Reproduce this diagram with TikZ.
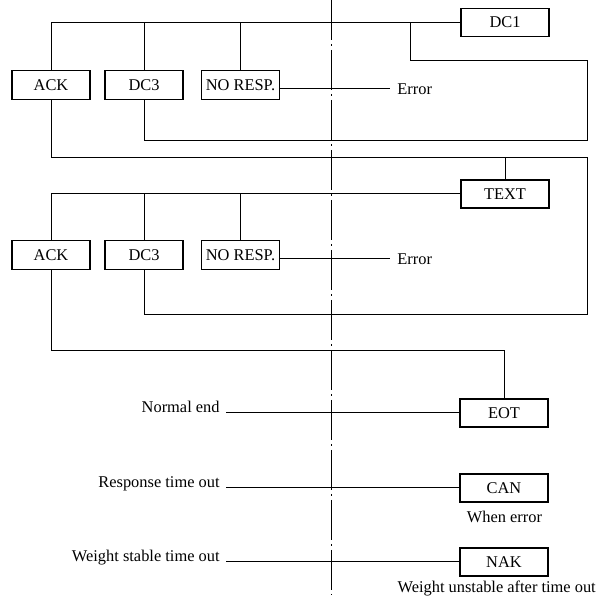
\documentclass[tikz,border=0pt]{standalone}
\usepackage{fontspec}
\setmainfont{Liberation Serif}
\usepackage{tikz}

\tikzset{
	ctrl/.style={draw, line width=0.6pt, minimum width=39pt, minimum height=14.5pt, inner sep=1pt},
	send/.style={ctrl, minimum width=44pt, minimum height=14pt},
	wire/.style={line width=0.5pt},
	centre/.style={line width=0.45pt, dash pattern=on 20pt off 2pt on 1pt off 2pt}
}

\begin{document}
\begin{tikzpicture}[x=0.5pt, y=-0.5pt, font=\fontsize{8.2}{9.8}\selectfont]
		\useasboundingbox (0,0) rectangle (607,604);
		\draw[centre] (331,0) -- (331,595);

		\path	(505,22.5) node[send](dcone) {DC1}
			(505,194) node[send](txt) {TEXT}
			(504,413) node[send](eot) {EOT}
			(504,488) node[send](can) {CAN}
			(504,562) node[send](nak) {NAK};

		% the two enquiry rows
		\foreach \n/\y/\head in {1/85/dcone, 2/255/txt} {
			\path	(51,\y) node[ctrl](ack\n) {ACK}
				(144,\y) node[ctrl](dcthree\n) {DC3}
				(240.5,\y) node[ctrl](noresp\n) {NO RESP.}
				(390,\y+4) node[anchor=west, inner xsep=3.5pt, inner ysep=0pt](err\n) {Error};
			\draw[wire] (\head.west) -| (ack\n.north);
			\draw[wire] (\head.west -| dcthree\n.north) -- (dcthree\n.north);
			\draw[wire] (\head.west -| noresp\n.north) -- (noresp\n.north);
			\draw[wire] (noresp\n.east |- err\n.west) -- (err\n.west);
		}

		\coordinate (back1) at (410,61);
		\coordinate (edge1) at (587,141);
		\coordinate (edge2) at (587,157.5);
		\coordinate (edge3) at (587,315);
		\coordinate (turn) at (504,350.5);
		\draw[wire] (dcthree1.south) |- (edge1) |- (back1) |- (dcone.west);
		\draw[wire] (ack1.south) |- (edge2);
		\draw[wire] (txt.north) -- (txt.north |- edge2);
		\draw[wire] (dcthree2.south) |- (edge3) -- (edge2);
		\draw[wire] (ack2.south) |- (turn) -- (eot.north);

		% end of transmission
		\foreach \lbl/\dest/\y/\words in {nend/eot/413/Normal end, rto/can/488/Response time out, wto/nak/562/Weight stable time out} {
			\path (226,\y) node[anchor=base east, inner xsep=3pt, inner ysep=0pt](\lbl) {\words};
			\draw[wire] (\lbl.base east) -- (\dest.west);
		}
		\path	(504.5,516.5) node[inner sep=0pt](whenerr) {When error}
			(496.7,588.5) node[inner sep=0pt](unstable) {Weight unstable after time out};
	\end{tikzpicture}
\end{document}
